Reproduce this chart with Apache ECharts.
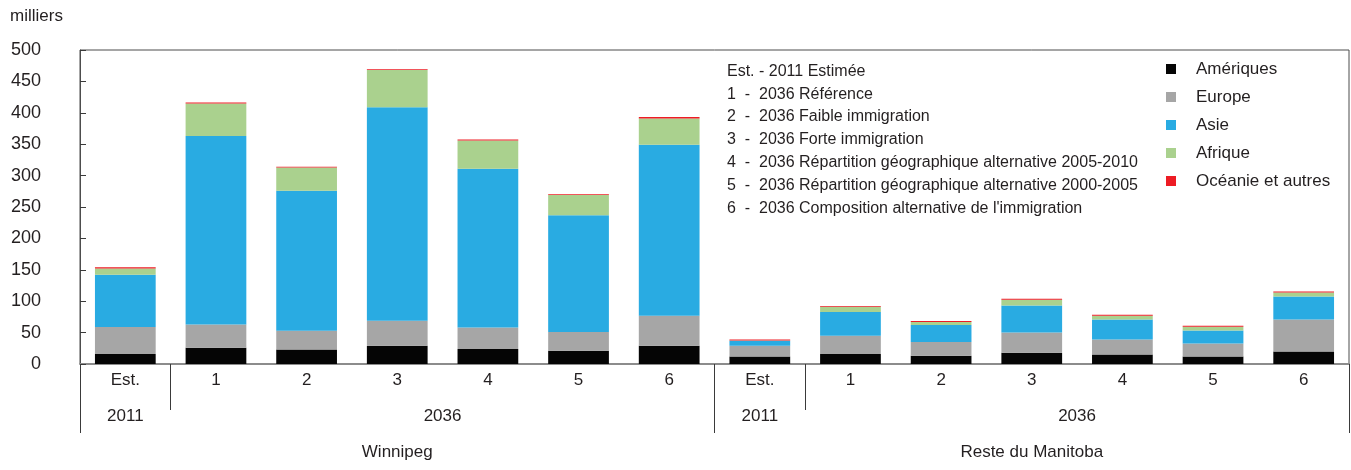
<!DOCTYPE html>
<html>
<head>
<meta charset="utf-8">
<script src="https://cdn.jsdelivr.net/npm/echarts@6/dist/echarts.min.js"></script>
<style>
  html, body { margin: 0; padding: 0; background: #fff; }
  #chart { width: 1351px; height: 470px; }
</style>
</head>
<body>
<div id="chart"></div>
<script>
// Immigrant population by region of birth, Winnipeg and rest of Manitoba (thousands)
const categories = ['Est.', '1', '2', '3', '4', '5', '6', 'Est.', '1', '2', '3', '4', '5', '6'];
const ameriques = [16, 26, 23, 29, 24, 21, 29, 12, 16, 13, 18, 15, 12, 20];
const europe    = [43, 37, 30, 40, 34, 30, 48, 17, 29, 22, 32, 24, 20.5, 51];
const asie      = [83, 300, 223, 340, 253, 186, 272, 8, 38, 27, 43, 32, 21, 36.5];
const afrique   = [10, 52, 37, 59, 45, 32, 42, 0.5, 8, 5, 9.5, 6, 6, 6.5];
const oceanie   = [2, 1.5, 1, 1.5, 1.5, 1.5, 2.5, 1.5, 1.5, 1.5, 1.5, 1.5, 1.5, 1.5];

// Grouping rows under the category axis
const yearLabels = ['2011', '2036', '2011', '2036'];
const yearSpans  = [1, 6, 1, 6];
const regionLabels = ['Winnipeg', 'Reste du Manitoba'];
const regionSpans  = [7, 7];

const scenarioNotes = [
  'Est. - 2011 Estimée',
  '1  -  2036 Référence',
  '2  -  2036 Faible immigration',
  '3  -  2036 Forte immigration',
  '4  -  2036 Répartition géographique alternative 2005-2010',
  '5  -  2036 Répartition géographique alternative 2000-2005',
  '6  -  2036 Composition alternative de l\'immigration'
];

const FONT = "'Liberation Sans', Arial, sans-serif";
const TXT = '#231f20';
const FS = 17;

function groupPositions(spans) {
  const bounds = [0], centers = [];
  let acc = 0;
  spans.forEach(s => { centers.push(acc + s / 2); acc += s; bounds.push(acc); });
  return { bounds, centers };
}
const yearPos = groupPositions(yearSpans);
const regionPos = groupPositions(regionSpans);
const regionBounds = regionPos.bounds;
// separators between years inside a region
const yearSeparators = yearPos.bounds.filter(b => regionBounds.indexOf(b) < 0);

function labelFor(centers, labels) {
  return v => {
    const i = centers.findIndex(c => Math.abs(c - v) < 1e-6);
    return i >= 0 ? labels[i] : '';
  };
}

const chart = echarts.init(document.getElementById('chart'), null, { renderer: 'canvas' });

const seriesDefs = [
  { name: 'Amériques', data: ameriques, color: '#050505' },
  { name: 'Europe', data: europe, color: '#a6a6a6' },
  { name: 'Asie', data: asie, color: '#29abe2' },
  { name: 'Afrique', data: afrique, color: '#aad18e' },
  { name: 'Océanie et autres', data: oceanie, color: '#ed1c24' }
];

const groupAxisBase = {
  type: 'value',
  position: 'bottom',
  min: 0,
  max: categories.length,
  axisLine: { show: false },
  splitLine: { show: false },
  silent: true
};

chart.setOption({
  animation: false,
  textStyle: { fontFamily: FONT, color: TXT },
  grid: {
    left: 80, right: 2, top: 50, bottom: 106,
    show: true, borderColor: '#4d4d4d', borderWidth: 1
  },
  legend: {
    orient: 'vertical',
    left: 1166,
    top: 59,
    padding: 0,
    itemWidth: 10,
    itemHeight: 10,
    itemGap: 8,
    icon: 'rect',
    selectedMode: false,
    textStyle: { fontFamily: FONT, fontSize: FS, color: TXT, lineHeight: 20, padding: [0, 0, 0, 15] },
    data: seriesDefs.map(s => s.name)
  },
  xAxis: [
    {
      type: 'category',
      data: categories,
      position: 'bottom',
      axisLine: { lineStyle: { color: '#8c8c8c', width: 2 } },
      axisTick: { interval: 0, length: 24, lineStyle: { color: '#3a3a3a', width: 1 } },
      axisLabel: { interval: 0, margin: 8, fontSize: FS, color: TXT, fontFamily: FONT }
    },
    Object.assign({}, groupAxisBase, {
      axisTick: { show: true, customValues: yearSeparators, length: 46, lineStyle: { color: '#3a3a3a' } },
      axisLabel: {
        customValues: yearPos.centers, margin: 44, fontSize: FS, color: TXT, fontFamily: FONT,
        formatter: labelFor(yearPos.centers, yearLabels)
      }
    }),
    Object.assign({}, groupAxisBase, {
      axisTick: { show: true, customValues: regionBounds, length: 69, lineStyle: { color: '#3a3a3a' } },
      axisLabel: {
        customValues: regionPos.centers, margin: 80, fontSize: FS, color: TXT, fontFamily: FONT,
        formatter: labelFor(regionPos.centers, regionLabels)
      }
    })
  ],
  yAxis: {
    type: 'value',
    min: 0,
    max: 500,
    interval: 50,
    axisLine: { show: true, lineStyle: { color: '#4d4d4d' } },
    axisTick: { show: true, inside: true, length: 6, lineStyle: { color: '#3a3a3a' } },
    splitLine: { show: false },
    axisLabel: { margin: 39, fontSize: 18, color: TXT, fontFamily: FONT }
  },
  graphic: [
    {
      type: 'text', left: 10, top: 8,
      style: { text: 'milliers', fontSize: FS, fontFamily: FONT, fill: TXT }
    },
    {
      type: 'text', left: 727, top: 60,
      style: { text: scenarioNotes.join('\n'), fontSize: 16, lineHeight: 22.8, fontFamily: FONT, fill: TXT }
    }
  ],
  series: seriesDefs.map(s => ({
    name: s.name,
    type: 'bar',
    stack: 'total',
    xAxisIndex: 0,
    barWidth: '67%',
    itemStyle: { color: s.color },
    data: s.data
  }))
});
</script>
</body>
</html>
